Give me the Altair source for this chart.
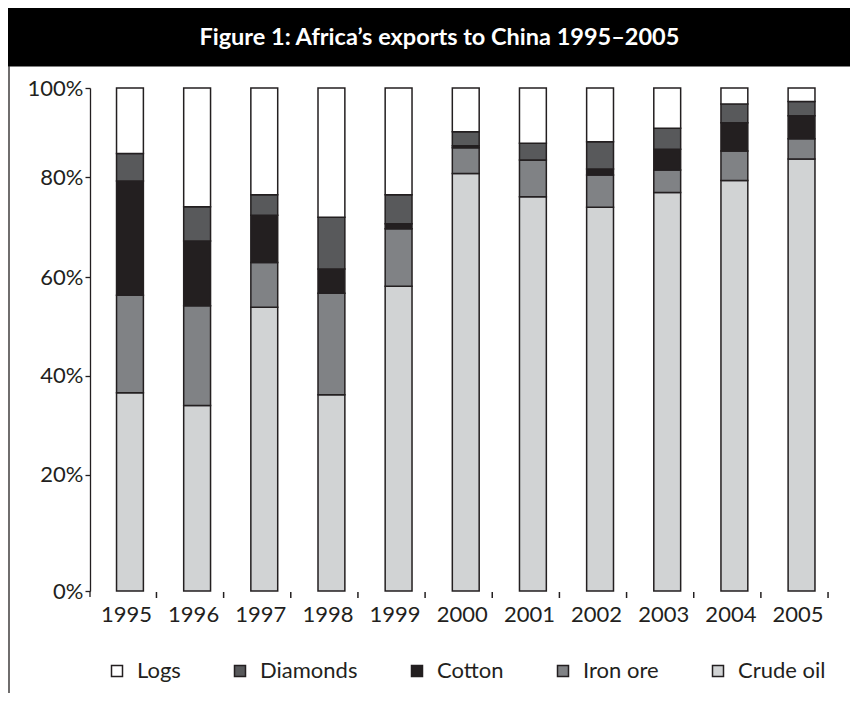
import altair as alt
import pandas as pd

years = ["1995", "1996", "1997", "1998", "1999", "2000", "2001", "2002", "2003", "2004", "2005"]
crude_oil = [39.4, 36.9, 56.4, 39.0, 60.6, 83.0, 78.4, 76.3, 79.2, 81.6, 85.9]
iron_ore = [19.4, 19.8, 8.9, 20.2, 11.4, 5.1, 7.3, 6.4, 4.5, 5.9, 4.0]
cotton = [22.7, 12.9, 9.4, 4.8, 1.0, 0.4, 0.0, 1.2, 4.1, 5.6, 4.6]
diamonds = [5.5, 6.8, 4.1, 10.3, 5.8, 2.8, 3.3, 5.4, 4.2, 3.7, 2.8]
logs = [13.0, 23.6, 21.2, 25.7, 21.2, 8.7, 11.0, 10.7, 8.0, 3.2, 2.7]

legend_order = ["Logs", "Diamonds", "Cotton", "Iron ore", "Crude oil"]
colors = ["#ffffff", "#58595b", "#231f20", "#808285", "#d1d3d4"]
stack_rank = {"Crude oil": 0, "Iron ore": 1, "Cotton": 2, "Diamonds": 3, "Logs": 4}

# y-axis tick positions as drawn in the original figure, with their labels
y_tick_values = [0, 23.1, 42.8, 62.4, 82.3, 100]
y_tick_labels = ["0%", "20%", "40%", "60%", "80%", "100%"]

title_text = "Figure 1: Africa\u2019s exports to China 1995\u20132005"

series = {"Crude oil": crude_oil, "Iron ore": iron_ore, "Cotton": cotton,
          "Diamonds": diamonds, "Logs": logs}
rows = []
for name, vals in series.items():
    for y, v in zip(years, vals):
        rows.append({"year": y, "product": name, "share": v, "rank": stack_rank[name]})
df = pd.DataFrame(rows)
years_df = pd.DataFrame({"year": years})
one = pd.DataFrame({"t": [title_text]})

INK = "#231f20"
FONT = "Lato"
W, H = 751.5, 503

label_expr = "[" + ",".join(f"'{l}'" for l in y_tick_labels) + "][indexof([" + \
    ",".join(str(v) for v in y_tick_values) + "], datum.value)]"

xscale = alt.Scale(domain=years, paddingInner=0.6, paddingOuter=0.395)
xaxis = alt.Axis(labelAngle=0, domain=False, ticks=False, tickSize=0,
                 labelPadding=13, labelOffset=-3.5, labelFontSize=22,
                 labelFont=FONT, labelColor=INK, title=None)

bars = alt.Chart(df).mark_bar(stroke=INK, strokeWidth=1.5).encode(
    x=alt.X("year:N", scale=xscale, sort=years, title=None, axis=xaxis),
    y=alt.Y("share:Q", stack="zero", scale=alt.Scale(domain=[0, 100], nice=False),
            title=None,
            axis=alt.Axis(values=y_tick_values, labelExpr=label_expr, grid=False,
                          domainColor=INK, domainWidth=1.3, tickColor=INK,
                          tickWidth=1.3, tickSize=5, labelPadding=2,
                          labelFontSize=22, labelFont=FONT, labelColor=INK)),
    color=alt.Color("product:N", scale=alt.Scale(domain=legend_order, range=colors),
                    title=None,
                    legend=alt.Legend(orient="none", direction="horizontal",
                                      legendX=16, legendY=572, padding=0,
                                      symbolType="square", symbolSize=121,
                                      symbolStrokeColor=INK, symbolStrokeWidth=1.5,
                                      labelFontSize=22, labelFont=FONT,
                                      labelColor=INK, labelOffset=9,
                                      columnPadding=48)),
    order=alt.Order("rank:Q", sort="ascending"),
)

xticks = alt.Chart(years_df).mark_rule(color=INK, strokeWidth=1.5, xOffset=26.5).encode(
    x=alt.X("year:N", scale=xscale, sort=years, title=None, axis=xaxis),
    y=alt.value(H + 1),
    y2=alt.value(H + 7),
)

yaxis_ext = alt.Chart(one).mark_rule(color=INK, strokeWidth=1.3).encode(
    x=alt.value(0), y=alt.value(H), y2=alt.value(H + 6)
)

title_bar = alt.Chart(one).mark_rect(color="black").encode(
    x=alt.value(-82), x2=alt.value(W + 8.5), y=alt.value(-80), y2=alt.value(-21.5)
)

title = alt.Chart(one).mark_text(color="white", font=FONT, fontSize=23.5,
                                 fontWeight="bold", align="center",
                                 baseline="alphabetic").encode(
    x=alt.value(349.4), y=alt.value(-43), text="t:N"
)

border = alt.Chart(one).mark_rule(color=INK, strokeWidth=1.3).encode(
    x=alt.value(-81), y=alt.value(-22), y2=alt.value(H + 102)
)

chart = alt.layer(bars, xticks, yaxis_ext, title_bar, title, border).properties(
    width=W, height=H,
    autosize=alt.AutoSizeParams(type="none"),
    padding={"left": 82, "top": 80, "right": 8.5, "bottom": 102},
    background="white",
).configure_view(stroke=None)

chart.save("out.html", embed_options={"renderer": "svg", "actions": False})
